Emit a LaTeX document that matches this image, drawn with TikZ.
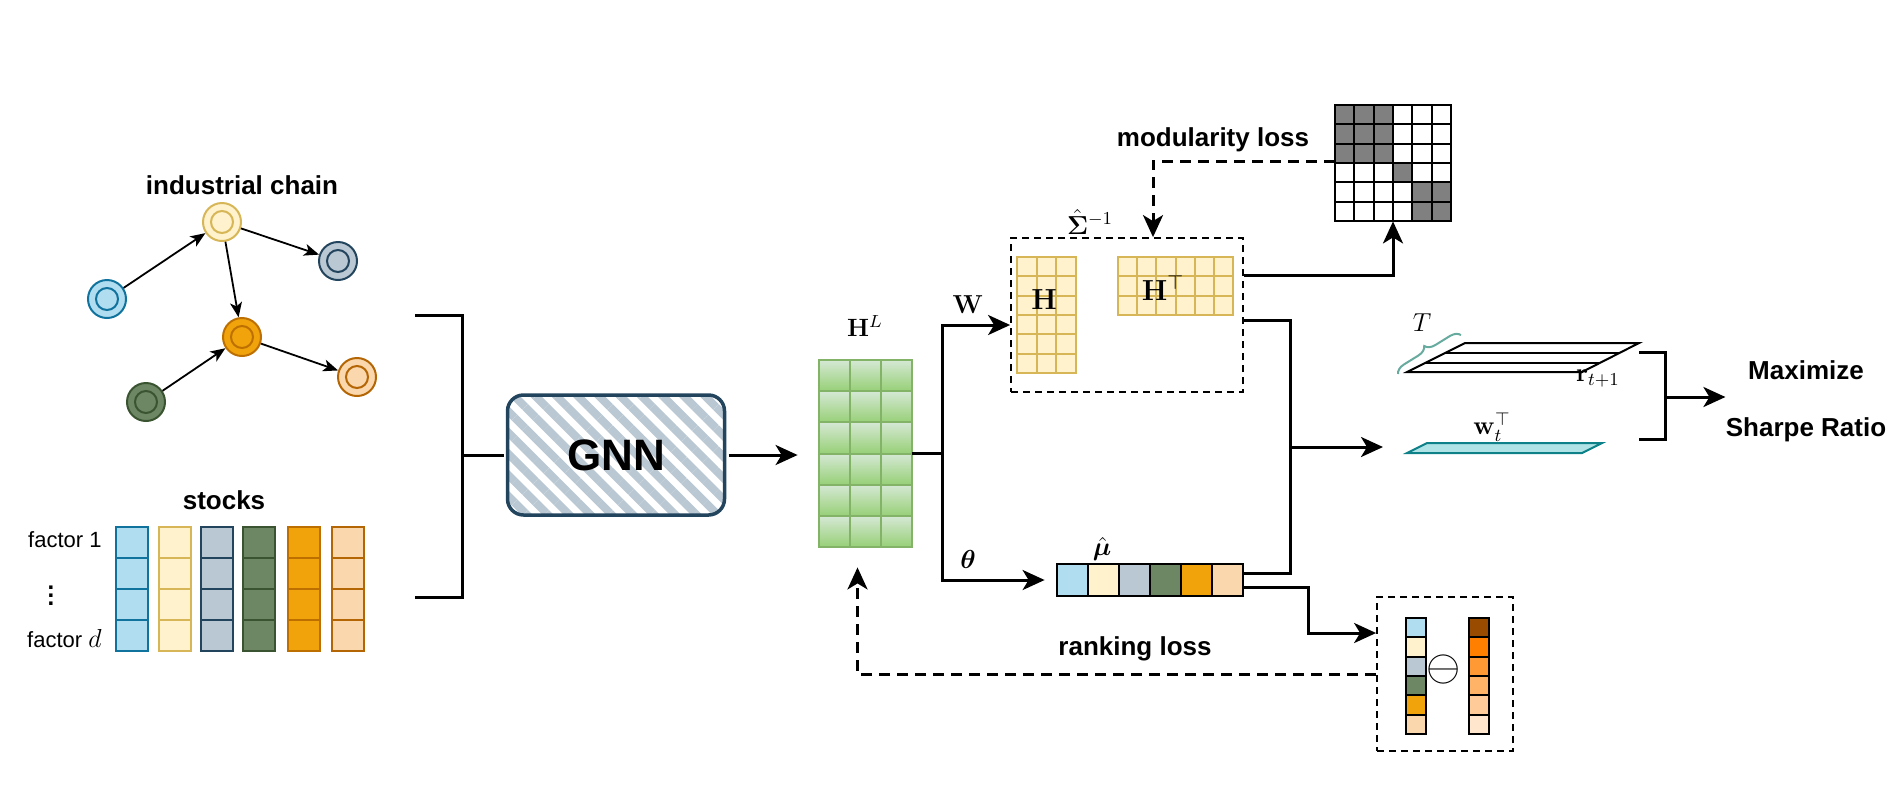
\RequirePackage{fix-cm}
\documentclass[tikz,border=0pt]{standalone}
\usepackage{amsmath}
\usepackage{bm}
\usepackage[no-math]{fontspec}
\setmainfont{Liberation Sans}
\usepackage{tikz}
\usetikzlibrary{positioning, calc, arrows.meta, decorations.pathreplacing, patterns.meta}

\definecolor{cblue}{HTML}{B1DDF0}    \definecolor{dblue}{HTML}{10739E}
\definecolor{cyellow}{HTML}{FFF2CC}  \definecolor{dyellow}{HTML}{D6B656}
\definecolor{cgrey}{HTML}{BAC8D3}    \definecolor{dgrey}{HTML}{23445D}
\definecolor{cgreen}{HTML}{6D8764}   \definecolor{dgreen}{HTML}{3A5431}
\definecolor{corange}{HTML}{F0A30A}  \definecolor{dorange}{HTML}{BD7000}
\definecolor{clorange}{HTML}{FAD7AC} \definecolor{dlorange}{HTML}{B46504}
\definecolor{hlight}{HTML}{D5E8D4}   \definecolor{hdark}{HTML}{97D077}
\definecolor{hline}{HTML}{82B366}
\definecolor{wfill}{HTML}{B0E3E6}    \definecolor{wline}{HTML}{0E8088}
\definecolor{bracecol}{HTML}{67AB9F}
\definecolor{cdark}{HTML}{808080}
\definecolor{rk1}{HTML}{994C00} \definecolor{rk2}{HTML}{FF8000}
\definecolor{rk3}{HTML}{FF9933} \definecolor{rk4}{HTML}{FFB366}
\definecolor{rk5}{HTML}{FFCC99} \definecolor{rk6}{HTML}{FFE6CC}

\tikzset{
  link/.style={line width=1.5pt},
  linkarrow/.style={link, -{Stealth[length=11pt,width=10pt,inset=3pt]}},
  lossarrow/.style={linkarrow, dash pattern=on 5.5pt off 3.5pt},
  chainedge/.style={line width=0.9pt, -{Stealth[length=7.5pt,width=6pt,inset=2pt]}},
  dashbox/.style={draw, line width=0.9pt, dash pattern=on 3.5pt off 2.5pt, inner sep=0},
  holder/.style={inner sep=0},
  cellk/.style={draw=black, line width=1pt},
  hcell/.style={fill=cyellow, draw=dyellow, line width=1pt},
  gnode/.style 2 args={circle, minimum size=19pt, inner sep=0, fill=#1, draw=#2, line width=1pt,
    path picture={\draw[#2, line width=1pt] (path picture bounding box.center) circle (5.5pt);}},
  gnnbox/.style={rounded corners=8pt, minimum width=108.5pt, minimum height=60pt, draw=dgrey,
    line width=1.75pt, pattern={Lines[angle=-45,distance=7.5pt,line width=4pt]}, pattern color=cgrey,
    font=\fontsize{22}{26}\selectfont\bfseries},
  lbl/.style={font=\fontsize{13}{15}\selectfont\bfseries, inner sep=0},
  mathlbl/.style={font=\fontsize{13}{15}\selectfont, inner sep=0},
}

\begin{document}
\begin{tikzpicture}[x=0.5pt, y=-0.5pt]
  \useasboundingbox (0,0) rectangle (1898,794);

  % industrial chain
  \node[lbl] (chainlbl) at (242,185) {industrial chain};
  \node[gnode={cyellow}{dyellow}] (n2) at (222,222) {};
  \node[gnode={cblue}{dblue}] (n1) at (107,299) {};
  \node[gnode={cgrey}{dgrey}] (n3) at (338,261) {};
  \node[gnode={corange}{dorange}] (n4) at (242,337) {};
  \node[gnode={cgreen}{dgreen}] (n5) at (146,402) {};
  \node[gnode={clorange}{dlorange}] (n6) at (357,377) {};
  \draw[chainedge] (n1) -- (n2);
  \draw[chainedge] (n2) -- (n3);
  \draw[chainedge] (n2) -- (n4);
  \draw[chainedge] (n5) -- (n4);
  \draw[chainedge] (n4) -- (n6);

  % stocks
  \node[lbl] (stocklbl) at (224,500) {stocks};
  \foreach \x/\f/\s in {116/cblue/dblue, 159/cyellow/dyellow, 201/cgrey/dgrey,
                        243/cgreen/dgreen, 288/corange/dorange, 332/clorange/dlorange}
    \foreach \j in {0,...,3}
      \draw[fill=\f, draw=\s, line width=1pt] (\x,527+31*\j) rectangle ++(32,31);
  \node[font=\fontsize{11}{13}\selectfont, anchor=east, inner sep=0] (f1) at (102,540) {factor 1};
  \node[font=\fontsize{12}{12}\selectfont, inner sep=0] (fdots) at (51,590) {$\bm{\vdots}$};
  \node[font=\fontsize{11}{13}\selectfont, anchor=east, inner sep=0] (fd) at (102,639) {factor {\fontsize{13}{15}\selectfont$d$}};

  % GNN
  \node[gnnbox] (gnn) at (616,455) {GNN};
  \coordinate (graphout) at (415,315);
  \coordinate (stockout) at (415,597);
  \coordinate (injoin) at (462,455);
  \draw[link] (graphout) -| (injoin) |- (stockout);
  \draw[link] (injoin) -- (gnn.west);

  % H^L
  \foreach \i in {0,1,2}
    \foreach \j in {0,...,5}
      \shade[top color=hlight, bottom color=hdark] (819+31*\i,360+31.17*\j) rectangle ++(31,31.17);
  \foreach \i in {0,1,2}
    \foreach \j in {0,...,5}
      \draw[draw=hline, line width=1pt] (819+31*\i,360+31.17*\j) rectangle ++(31,31.17);
  \node[holder, minimum width=46.5pt, minimum height=93.5pt] (HL) at (865.5,453.5) {};
  \node[mathlbl, font=\fontsize{12.5}{14}\selectfont] (HLlbl) at (865,326) {$\mathbf{H}^L$};
  \draw[linkarrow, shorten >=10.5pt] (gnn.east) -- (gnn.east -| HL.west);

  % Sigma^-1 = H H^T
  \node[dashbox, minimum width=116pt, minimum height=77pt] (sig) at (1127,315) {};
  \foreach \i in {0,1,2}
    \foreach \j in {0,...,5}
      \draw[hcell] (1017+19.67*\i,257+19.33*\j) rectangle ++(19.67,19.33);
  \foreach \i in {0,...,5}
    \foreach \j in {0,1,2}
      \draw[hcell] (1118+19.17*\i,257+19.33*\j) rectangle ++(19.17,19.33);
  \node[mathlbl, font=\fontsize{14.5}{16}\selectfont] (Hlbl) at (1044,300) {$\mathbf{H}$};
  \node[mathlbl, font=\fontsize{14.5}{16}\selectfont] (HTlbl) at (1163,288) {$\mathbf{H}^{\top}$};
  \node[mathlbl] (siglbl) at (1090,222) {$\hat{\bm{\Sigma}}^{-1}$};

  % mu
  \foreach \c [count=\i from 0] in {cblue,cyellow,cgrey,cgreen,corange,clorange}
    \draw[cellk, fill=\c] (1057+31*\i,564) rectangle ++(31,32);
  \node[holder, minimum width=93pt, minimum height=16pt] (mu) at (1150,580) {};
  \node[mathlbl] (mulbl) at (1102,549) {$\hat{\bm{\mu}}$};

  % two heads
  \coordinate (split) at (942,453.5);
  \draw[link] (HL.east) -- (split);
  \draw[linkarrow] (split) |- ([yshift=-5pt]sig.west);
  \draw[linkarrow, shorten >=6pt] (split) |- (mu.west);
  \node[mathlbl] (Wlbl) at (968,305) {$\mathbf{W}$};
  \node[mathlbl] (thetalbl) at (968,559) {$\bm{\theta}$};

  % modularity loss
  \node[holder, minimum size=58pt] (mod) at (1393,163) {};
  \fill[cdark] (1335,105) rectangle ++(58,58);
  \fill[cdark] (1393,163) rectangle ++(19.33,19.33);
  \fill[cdark] (1412.33,182.33) rectangle ++(38.67,38.67);
  \foreach \i in {0,...,5}
    \foreach \j in {0,...,5}
      \draw[cellk] (1335+19.33*\i,105+19.33*\j) rectangle ++(19.33,19.33);
  \node[lbl] (modlbl) at (1213,140) {modularity loss};
  \draw[lossarrow] ([yshift=1pt]mod.west) -| ([xshift=13pt]sig.north);
  \draw[linkarrow] ([yshift=20pt]sig.east) -| (mod.south);

  % ranking loss
  \node[dashbox, minimum width=68pt, minimum height=77pt] (rank) at (1445,674) {};
  \foreach \c [count=\i from 0] in {cblue,cyellow,cgrey,cgreen,corange,clorange}
    \draw[cellk, fill=\c] (1406,618+19.33*\i) rectangle ++(20,19.33);
  \foreach \c [count=\i from 0] in {rk1,rk2,rk3,rk4,rk5,rk6}
    \draw[cellk, fill=\c] (1469,618+19.33*\i) rectangle ++(20,19.33);
  \node[font=\fontsize{22}{24}\selectfont, inner sep=0] (minus) at (1444,669) {$\ominus$};
  \node[lbl] (ranklbl) at (1135,649) {ranking loss};
  \draw[linkarrow] ([yshift=-3.5pt]mu.east) -| ($(rank.west)+(-34pt,20.5pt)$) -- ([yshift=20.5pt]rank.west);
  \draw[lossarrow, shorten >=10pt] (rank.west) -| ([xshift=-4pt]HL.south);

  % portfolio
  \coordinate (merge) at (1290,447);
  \coordinate (wleft) at (1407,447);
  \draw[link] ([yshift=-2.5pt]sig.east) -| (merge);
  \draw[link] ([yshift=3.5pt]mu.east) -| (merge);
  \draw[linkarrow, shorten >=12pt] (merge) -- (wleft);

  \draw[line width=1pt] (1465,343) -- (1639,343) -- (1582,372) -- (1407,372) -- cycle;
  \draw[line width=1pt] (1445,353) -- (1619,353);
  \draw[line width=1pt] (1425,363) -- (1600,363);
  \draw[bracecol, line width=1pt, decorate, decoration={brace, amplitude=5pt}] (1398,374) -- (1461,335);
  \node[mathlbl] (Tlbl) at (1422,323) {$T$};
  \node[mathlbl] (rlbl) at (1598,379) {$\mathbf{r}_{t+1}$};
  \draw[fill=wfill, draw=wline, line width=1pt] (1427,443) -- (1602,443) -- (1582,453) -- (1407,453) -- cycle;
  \node[mathlbl] (wlbl) at (1492,427) {$\mathbf{w}_t^{\top}$};

  % objective
  \coordinate (rend) at (1639,352);
  \coordinate (wend) at (1639,439);
  \coordinate (objjoin) at (1665,397);
  \draw[link] (rend) -| (objjoin) |- (wend);
  \node[lbl, align=center, font=\fontsize{13}{28.5}\selectfont\bfseries] (obj) at (1806,401) {Maximize\\Sharpe Ratio};
  \draw[linkarrow] (objjoin) -- (objjoin -| obj.west);
\end{tikzpicture}
\end{document}
